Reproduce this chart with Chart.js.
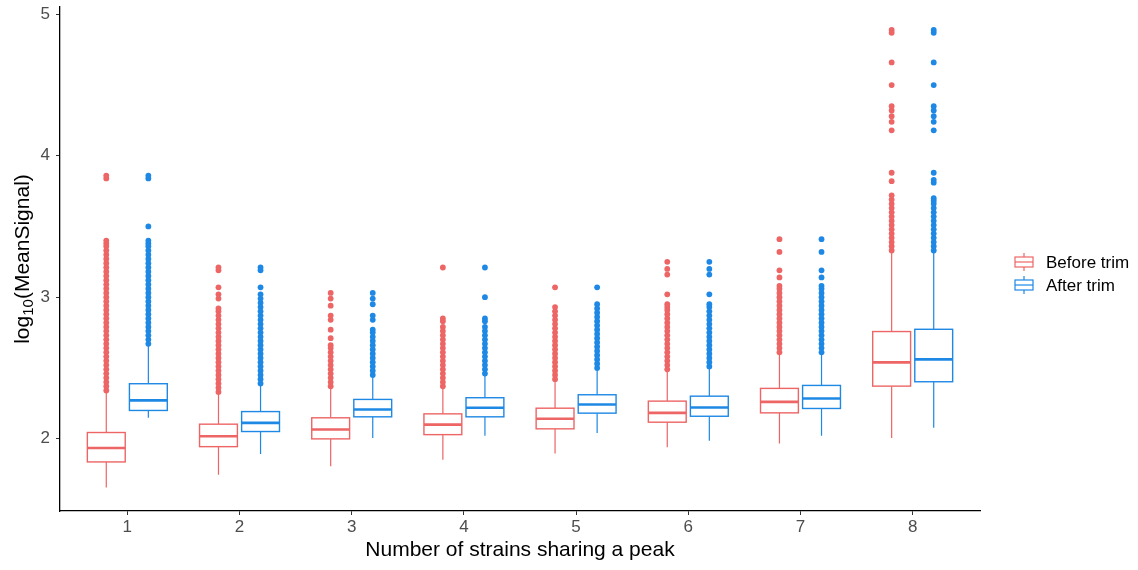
<!DOCTYPE html>
<html>
<head>
<meta charset="utf-8">
<script src="https://cdn.jsdelivr.net/npm/chart.js@4.4.1/dist/chart.umd.min.js"></script>
<style>
  html, body { margin: 0; padding: 0; background: #fff; }
  #wrap { width: 1138px; height: 570px; }
</style>
</head>
<body>
<div id="wrap"><canvas id="boxChart" width="1138" height="570"></canvas></div>
<script>
// Groups on the x axis and y tick labels
const groups = [1, 2, 3, 4, 5, 6, 7, 8]
const yTicks = [2, 3, 4, 5]
const seriesNames = ["Before trim", "After trim"]

// Box statistics, before trimming
const beforeLow = [1.655, 1.745, 1.804, 1.851, 1.894, 1.938, 1.965, 2.005]
const beforeQ1 = [1.835, 1.943, 1.998, 2.028, 2.069, 2.116, 2.182, 2.371]
const beforeMed = [1.934, 2.017, 2.064, 2.099, 2.140, 2.182, 2.260, 2.539]
const beforeQ3 = [2.043, 2.102, 2.147, 2.175, 2.215, 2.265, 2.355, 2.757]
const beforeHigh = [2.335, 2.324, 2.359, 2.371, 2.418, 2.489, 2.608, 3.329]

// Box statistics, after trimming
const afterLow = [2.147, 1.891, 2.005, 2.021, 2.040, 1.984, 2.021, 2.076]
const afterQ1 = [2.199, 2.050, 2.154, 2.154, 2.180, 2.158, 2.213, 2.402]
const afterMed = [2.270, 2.111, 2.206, 2.218, 2.241, 2.220, 2.284, 2.560]
const afterQ3 = [2.388, 2.191, 2.277, 2.289, 2.310, 2.300, 2.376, 2.773]
const afterHigh = [2.655, 2.383, 2.447, 2.461, 2.496, 2.508, 2.608, 3.329]

// Outliers per group
const beforeOutliers = [
  [2.34, 2.37, 2.40, 2.43, 2.46, 2.49, 2.52, 2.55, 2.58, 2.61, 2.64, 2.67, 2.70, 2.73, 2.76, 2.79, 2.82, 2.85, 2.88, 2.91, 2.94, 2.97, 3.00, 3.03, 3.06, 3.09, 3.12, 3.15, 3.18, 3.21, 3.24, 3.27, 3.30, 3.33, 3.36, 3.38, 3.40, 3.84, 3.86],
  [2.33, 2.36, 2.39, 2.42, 2.45, 2.48, 2.51, 2.54, 2.57, 2.60, 2.63, 2.66, 2.69, 2.72, 2.75, 2.78, 2.81, 2.84, 2.87, 2.90, 2.92, 2.99, 3.02, 3.07, 3.19, 3.21],
  [2.37, 2.40, 2.43, 2.46, 2.49, 2.52, 2.55, 2.58, 2.61, 2.64, 2.66, 2.71, 2.77, 2.84, 2.87, 2.94, 2.99, 3.03],
  [2.37, 2.40, 2.43, 2.46, 2.49, 2.52, 2.55, 2.58, 2.61, 2.64, 2.67, 2.70, 2.73, 2.76, 2.79, 2.83, 2.85, 3.21],
  [2.42, 2.45, 2.48, 2.51, 2.54, 2.57, 2.60, 2.63, 2.66, 2.69, 2.72, 2.75, 2.78, 2.81, 2.84, 2.87, 2.90, 2.93, 3.07],
  [2.49, 2.52, 2.55, 2.58, 2.61, 2.64, 2.67, 2.70, 2.73, 2.76, 2.79, 2.82, 2.85, 2.88, 2.91, 2.93, 2.95, 3.02, 3.16, 3.20, 3.25],
  [2.61, 2.64, 2.67, 2.70, 2.73, 2.76, 2.79, 2.82, 2.85, 2.88, 2.91, 2.94, 2.97, 3.00, 3.03, 3.06, 3.08, 3.14, 3.19, 3.32, 3.41],
  [3.33, 3.36, 3.39, 3.42, 3.45, 3.48, 3.51, 3.54, 3.57, 3.60, 3.63, 3.66, 3.69, 3.72, 3.82, 3.88, 4.18, 4.24, 4.28, 4.32, 4.35, 4.50, 4.66, 4.87, 4.89],
]
const afterOutliers = [
  [2.67, 2.70, 2.73, 2.76, 2.79, 2.82, 2.85, 2.88, 2.91, 2.94, 2.97, 3.00, 3.03, 3.06, 3.09, 3.12, 3.15, 3.18, 3.21, 3.24, 3.27, 3.30, 3.33, 3.36, 3.38, 3.40, 3.50, 3.84, 3.86],
  [2.39, 2.42, 2.45, 2.48, 2.51, 2.54, 2.57, 2.60, 2.63, 2.66, 2.69, 2.72, 2.75, 2.78, 2.81, 2.84, 2.87, 2.90, 2.93, 2.96, 2.99, 3.02, 3.07, 3.19, 3.21],
  [2.45, 2.48, 2.51, 2.54, 2.57, 2.60, 2.63, 2.66, 2.69, 2.72, 2.75, 2.77, 2.84, 2.87, 2.95, 2.99, 3.03],
  [2.46, 2.49, 2.52, 2.55, 2.58, 2.61, 2.64, 2.67, 2.70, 2.73, 2.76, 2.79, 2.83, 2.85, 3.00, 3.21],
  [2.50, 2.53, 2.56, 2.59, 2.62, 2.65, 2.68, 2.71, 2.74, 2.77, 2.80, 2.83, 2.86, 2.89, 2.92, 2.95, 3.07],
  [2.51, 2.54, 2.57, 2.60, 2.63, 2.66, 2.69, 2.72, 2.75, 2.78, 2.81, 2.84, 2.87, 2.90, 2.93, 2.95, 3.02, 3.16, 3.20, 3.25],
  [2.61, 2.64, 2.67, 2.70, 2.73, 2.76, 2.79, 2.82, 2.85, 2.88, 2.91, 2.94, 2.97, 3.00, 3.03, 3.06, 3.08, 3.14, 3.19, 3.32, 3.41],
  [3.33, 3.36, 3.39, 3.42, 3.45, 3.48, 3.51, 3.54, 3.57, 3.60, 3.63, 3.66, 3.68, 3.70, 3.81, 3.83, 3.88, 4.18, 4.24, 4.28, 4.32, 4.35, 4.50, 4.66, 4.87, 4.89],
]

const RED = "#ED6565"
const BLUE = "#1E88E5"
const FONT = '"Liberation Sans", Arial, Helvetica, sans-serif'
const DODGE = 0.1875
const BOX_WIDTH = 0.3375

const series = [
  { name: seriesNames[0], color: RED, offset: -DODGE, low: beforeLow, q1: beforeQ1, med: beforeMed, q3: beforeQ3, high: beforeHigh, out: beforeOutliers },
  { name: seriesNames[1], color: BLUE, offset: DODGE, low: afterLow, q1: afterQ1, med: afterMed, q3: afterQ3, high: afterHigh, out: afterOutliers },
]

Chart.defaults.font.family = FONT

// whiskers, boxes and medians drawn through the chart scales
const boxPlugin = {
  id: "boxes",
  beforeDatasetsDraw(chart) {
    const { ctx, scales: { x, y } } = chart
    const half = (x.getPixelForValue(BOX_WIDTH) - x.getPixelForValue(0)) / 2
    ctx.save()
    series.forEach((s) => {
      groups.forEach((g, i) => {
        const cx = x.getPixelForValue(g + s.offset)
        const yLow = y.getPixelForValue(s.low[i])
        const yQ1 = y.getPixelForValue(s.q1[i])
        const yMed = y.getPixelForValue(s.med[i])
        const yQ3 = y.getPixelForValue(s.q3[i])
        const yHigh = y.getPixelForValue(s.high[i])
        ctx.strokeStyle = s.color
        ctx.lineWidth = 1.2
        ctx.beginPath()
        ctx.moveTo(cx, yLow)
        ctx.lineTo(cx, yQ1)
        ctx.moveTo(cx, yQ3)
        ctx.lineTo(cx, yHigh)
        ctx.stroke()
        ctx.fillStyle = "#fff"
        ctx.fillRect(cx - half, yQ3, half * 2, yQ1 - yQ3)
        ctx.lineWidth = 1.4
        ctx.strokeRect(cx - half, yQ3, half * 2, yQ1 - yQ3)
        ctx.lineWidth = 2.6
        ctx.beginPath()
        ctx.moveTo(cx - half, yMed)
        ctx.lineTo(cx + half, yMed)
        ctx.stroke()
      })
    })
    ctx.restore()
  },
}

// y title with subscript, plus the legend on the right
const decorPlugin = {
  id: "decor",
  afterDraw(chart) {
    const { ctx, chartArea } = chart
    ctx.save()
    const midY = (chartArea.top + chartArea.bottom) / 2
    ctx.translate(29, midY)
    ctx.rotate(-Math.PI / 2)
    ctx.fillStyle = "#000"
    ctx.textBaseline = "alphabetic"
    ctx.font = "21px " + FONT
    const wLog = ctx.measureText("log").width
    const wRest = ctx.measureText("(MeanSignal)").width
    ctx.font = "15px " + FONT
    const wSub = ctx.measureText("10").width
    let tx = -(wLog + wSub + wRest) / 2
    ctx.font = "21px " + FONT
    ctx.fillText("log", tx, 0)
    tx += wLog
    ctx.font = "15px " + FONT
    ctx.fillText("10", tx, 4)
    tx += wSub
    ctx.font = "21px " + FONT
    ctx.fillText("(MeanSignal)", tx, 0)
    ctx.restore()

    ctx.save()
    series.forEach((s, i) => {
      const cy = 262 + i * 23
      const kx = 1024
      ctx.strokeStyle = s.color
      ctx.lineWidth = 1.2
      ctx.beginPath()
      ctx.moveTo(kx, cy - 9)
      ctx.lineTo(kx, cy + 9)
      ctx.stroke()
      ctx.fillStyle = "#fff"
      ctx.fillRect(kx - 9, cy - 5, 18, 10)
      ctx.strokeRect(kx - 9, cy - 5, 18, 10)
      ctx.beginPath()
      ctx.moveTo(kx - 9, cy)
      ctx.lineTo(kx + 9, cy)
      ctx.stroke()
      ctx.fillStyle = "#000"
      ctx.font = "17px " + FONT
      ctx.textBaseline = "middle"
      ctx.fillText(s.name, 1046, cy + 1)
    })
    ctx.restore()
  },
}

const datasets = series.map((s) => ({
  label: s.name,
  data: groups.flatMap((g, i) => s.out[i].map((v) => ({ x: g + s.offset, y: v }))),
  backgroundColor: s.color,
  borderWidth: 0,
  pointRadius: 2.9,
  pointHoverRadius: 2.9,
}))

new Chart(document.getElementById("boxChart"), {
  type: "scatter",
  data: { datasets },
  plugins: [boxPlugin, decorPlugin],
  options: {
    responsive: false,
    animation: false,
    devicePixelRatio: 1,
    layout: { padding: { left: 0, right: 158, top: 7, bottom: 0 } },
    plugins: { legend: { display: false }, tooltip: { enabled: false } },
    scales: {
      x: {
        type: "linear",
        min: 0.4,
        max: 8.6,
        afterBuildTicks: (scale) => { scale.ticks = groups.map((v) => ({ value: v })) },
        afterFit: (scale) => {
          scale.height = 59
          scale.paddingLeft = 0
          scale.paddingRight = 0
        },
        grid: { drawOnChartArea: false, tickLength: 4, color: "#333", tickWidth: 1 },
        border: { display: true, color: "#000", width: 1.3 },
        ticks: { color: "#4D4D4D", font: { size: 17 }, padding: 2, callback: (v) => String(v) },
        title: { display: true, text: "Number of strains sharing a peak", color: "#000", font: { size: 21 }, padding: { top: 0, bottom: 7 } },
      },
      y: {
        min: 1.488,
        max: 5.052,
        afterBuildTicks: (scale) => { scale.ticks = yTicks.map((v) => ({ value: v })) },
        afterFit: (scale) => {
          scale.width = 60
          scale.paddingTop = 0
          scale.paddingBottom = 0
        },
        grid: { drawOnChartArea: false, tickLength: 4, color: "#333", tickWidth: 1 },
        border: { display: true, color: "#000", width: 1.3 },
        ticks: { color: "#4D4D4D", font: { size: 17 }, padding: 6, callback: (v) => String(v) },
      },
    },
  },
})
</script>
</body>
</html>
